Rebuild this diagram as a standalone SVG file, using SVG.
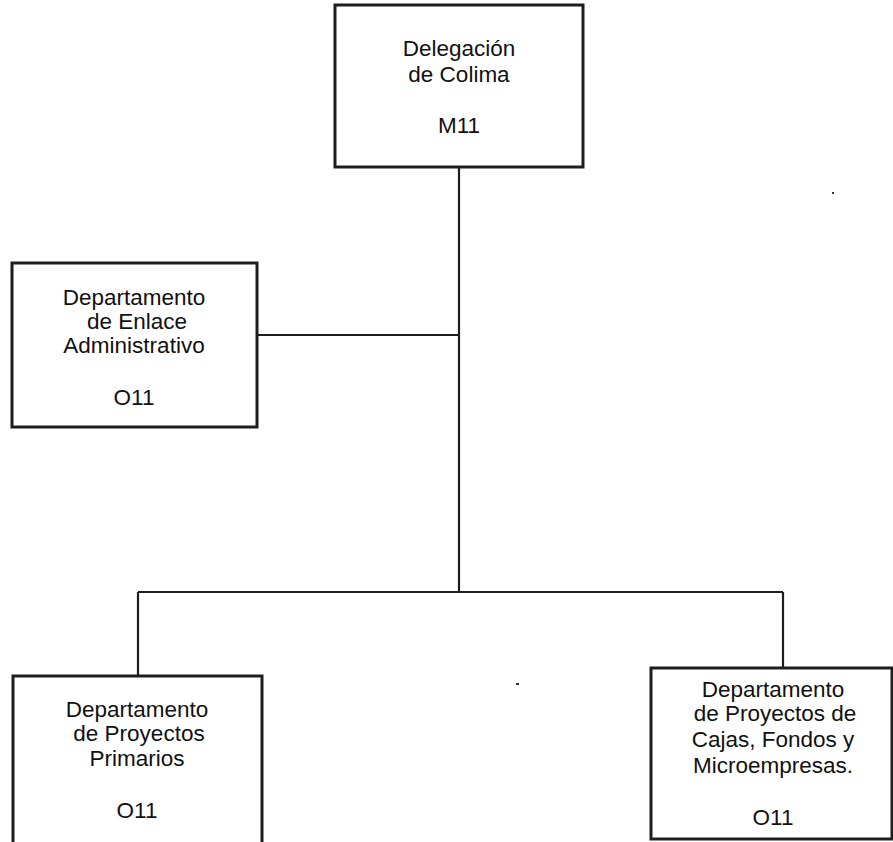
<svg xmlns="http://www.w3.org/2000/svg" width="893" height="842" viewBox="0 0 893 842">
  <style>
    .box { fill: #ffffff; stroke: #1e1e1e; stroke-width: 3; }
    .link { fill: none; stroke: #1e1e1e; stroke-width: 2.2; }
    .lbl { font-family: "Liberation Sans", Arial, sans-serif; font-size: 22.5px; fill: #111111; text-anchor: middle; }
  </style>
  <rect width="893" height="842" fill="#ffffff"/>

  <!-- connectors -->
  <g id="connectors">
    <path class="link" d="M459,167 V592"/>
    <path class="link" d="M257,335 H459"/>
    <path class="link" d="M138,592 H783"/>
    <path class="link" d="M138,592 V676"/>
    <path class="link" d="M783,592 V668"/>
  </g>

  <!-- top: Delegación de Colima -->
  <g id="delegacion">
    <rect class="box" x="335" y="5" width="248" height="162"/>
    <text class="lbl" x="459" y="56">Delegación</text>
    <text class="lbl" x="459" y="82">de Colima</text>
    <text class="lbl" x="459" y="133">M11</text>
  </g>

  <!-- left: Enlace Administrativo -->
  <g id="enlace">
    <rect class="box" x="12" y="263" width="245" height="164"/>
    <text class="lbl" x="134" y="305">Departamento</text>
    <text class="lbl" x="137" y="329">de Enlace</text>
    <text class="lbl" x="134" y="353">Administrativo</text>
    <text class="lbl" x="134" y="405">O11</text>
  </g>

  <!-- bottom left: Proyectos Primarios -->
  <g id="primarios">
    <rect class="box" x="13" y="676" width="249" height="180"/>
    <text class="lbl" x="137" y="717">Departamento</text>
    <text class="lbl" x="139" y="741">de Proyectos</text>
    <text class="lbl" x="137" y="766">Primarios</text>
    <text class="lbl" x="137" y="818">O11</text>
  </g>

  <!-- bottom right: Cajas, Fondos y Microempresas -->
  <g id="cajas">
    <rect class="box" x="651" y="668" width="241" height="171"/>
    <text class="lbl" x="773" y="697">Departamento</text>
    <text class="lbl" x="775" y="721">de Proyectos de</text>
    <text class="lbl" x="773" y="747">Cajas, Fondos y</text>
    <text class="lbl" x="773" y="773">Microempresas.</text>
    <text class="lbl" x="773" y="825">O11</text>
  </g>

  <!-- specks -->
  <rect x="832" y="192" width="2" height="2" fill="#333333"/>
  <rect x="516" y="683" width="3" height="2" fill="#333333"/>
</svg>
